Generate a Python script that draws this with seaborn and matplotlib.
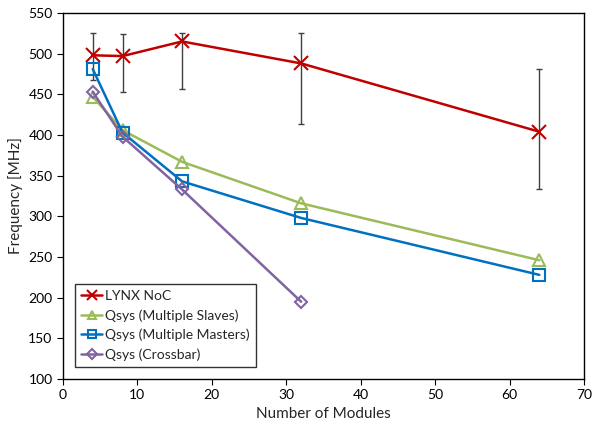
import matplotlib
matplotlib.use("Agg")
import matplotlib.pyplot as plt
import numpy as np
import seaborn as sns

# ---------------- data ---------------- #
modules = [4, 8, 16, 32, 64]
lynx = [498, 497, 515, 488, 404]
lynx_hi = [525, 524, 526, 526, 481]   # top of error bar
lynx_lo = [468, 453, 457, 414, 334]   # bottom of error bar
slaves = [447, 406, 367, 316, 246]
masters = [481, 403, 343, 298, 228]
crossbar_modules = [4, 8, 16, 32]
crossbar = [453, 398, 333, 195]

labels = ["LYNX NoC", "Qsys (Multiple Slaves)", "Qsys (Multiple Masters)", "Qsys (Crossbar)"]
colors = ["#C00000", "#9BBB59", "#0070C0", "#8064A2"]
markers = ["x", "^", "s", "D"]
msizes = [10, 8.5, 8, 6.5]

series = [(modules, lynx), (modules, slaves), (modules, masters), (crossbar_modules, crossbar)]

sns.set_style("ticks")
plt.rcParams['font.family'] = ['Lato', 'DejaVu Sans']

fig = plt.figure(figsize=(5.92, 4.30), dpi=100)
ax = fig.add_axes([0.1064, 0.1186, 0.8801, 0.8512])

# error bars of the LYNX NoC series
lynx_arr = np.array(lynx)
yerr = [lynx_arr - np.array(lynx_lo), np.array(lynx_hi) - lynx_arr]
ax.errorbar(modules, lynx, yerr=yerr, fmt="none", ecolor="#404040",
            elinewidth=1.0, capsize=2.5, capthick=1.0, zorder=1)

for (xs, ys), lab, c, mk, ms in zip(series, labels, colors, markers, msizes):
    sns.lineplot(x=xs, y=ys, color=c, marker=mk, markersize=ms,
                 markerfacecolor="none", markeredgecolor=c, markeredgewidth=1.5,
                 linewidth=1.8, label=lab, ax=ax, zorder=3)

ax.set_xlim(0, 70)
ax.set_ylim(100, 550)
ax.set_xticks(range(0, 71, 10))
ax.set_yticks(range(100, 551, 50))
ax.set_xlabel("Number of Modules", fontsize=11)
ax.set_ylabel("Frequency [MHz]", fontsize=11)
ax.tick_params(labelsize=10, direction="out", length=4, colors="black")
for s in ax.spines.values():
    s.set_color("black")
    s.set_linewidth(1.0)

leg = ax.legend(loc="lower left", bbox_to_anchor=(0.023, 0.033), borderaxespad=0,
                fontsize=10, frameon=True, fancybox=False, edgecolor="black",
                handlelength=1.5, handletextpad=0.2, borderpad=0.45,
                labelspacing=0.5, markerscale=0.75)
leg.get_frame().set_linewidth(1.0)

fig.savefig("out.png", dpi=100)
